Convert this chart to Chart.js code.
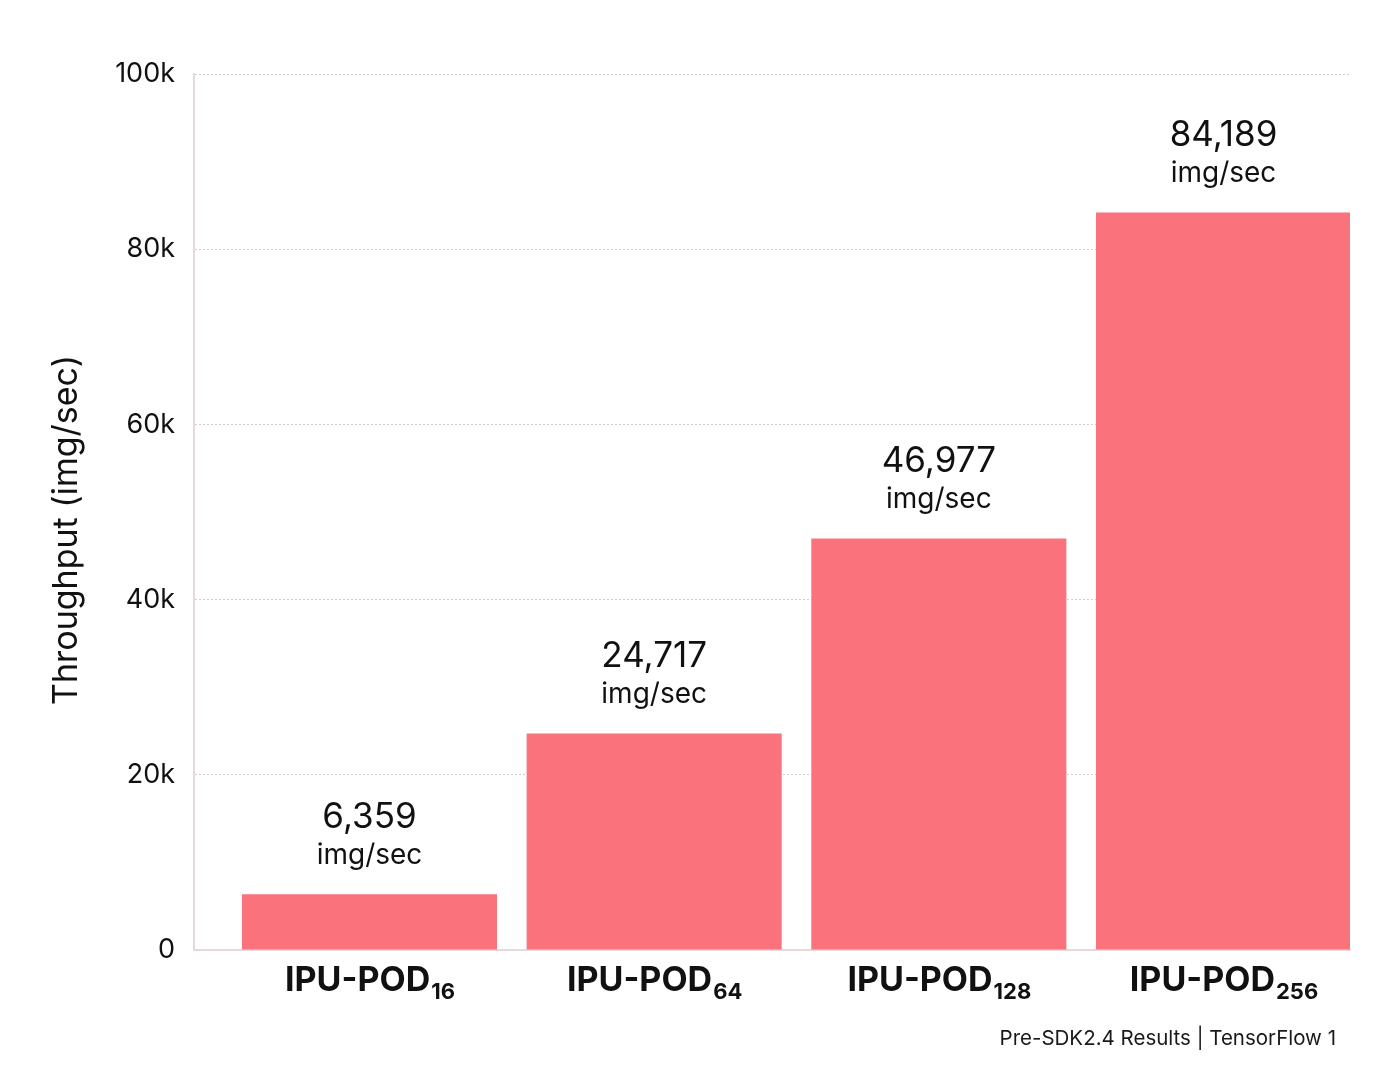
<!DOCTYPE html>
<html>
<head>
<meta charset="utf-8">
<script src="https://cdn.jsdelivr.net/npm/chart.js@4.4.1/dist/chart.umd.min.js"></script>
<style>
  html, body { margin: 0; padding: 0; background: #ffffff; }
  #wrap { width: 1400px; height: 1078px; }
</style>
</head>
<body>
<div id="wrap"><canvas id="c" width="1400" height="1078"></canvas></div>
<script>
// ---- data ----
const categoryNames = ["IPU-POD", "IPU-POD", "IPU-POD", "IPU-POD"];
const categorySubscripts = ["16", "64", "128", "256"];
const throughputValues = [6359, 24717, 46977, 84189];
const valueUnit = "img/sec";
const yTickValues = [0, 20000, 40000, 60000, 80000, 100000];
const yAxisTitle = "Throughput (img/sec)";
const footerNote = "Pre-SDK2.4 Results | TensorFlow 1";

const FONT = "Inter, 'Open Sans', 'DejaVu Sans', sans-serif";
const BAR_COLOR = "#FA727C";

const labelsPlugin = {
  id: "labelsPlugin",
  afterDatasetsDraw(chart) {
    const ctx = chart.ctx;
    const meta = chart.getDatasetMeta(0);
    const xs = chart.scales.x;
    ctx.save();
    ctx.fillStyle = "#111111";
    ctx.textAlign = "center";
    ctx.textBaseline = "middle";
    meta.data.forEach((bar, i) => {
      const v = throughputValues[i];
      ctx.font = "400 35px " + FONT;
      ctx.fillText(v.toLocaleString("en-US"), bar.x, bar.y - 77);
      ctx.font = "400 28px " + FONT;
      ctx.fillText(valueUnit, bar.x, bar.y - 39);
    });
    // x category labels with subscripts
    ctx.textBaseline = "alphabetic";
    categoryNames.forEach((name, i) => {
      const cx = xs.getPixelForValue(i);
      ctx.font = "700 34px " + FONT;
      const w1 = ctx.measureText(name).width;
      ctx.font = "700 22px " + FONT;
      const w2 = ctx.measureText(categorySubscripts[i]).width;
      const start = cx - (w1 + w2) / 2;
      ctx.textAlign = "left";
      ctx.font = "700 34px " + FONT;
      ctx.fillText(name, start, 991);
      ctx.font = "700 22px " + FONT;
      ctx.fillText(categorySubscripts[i], start + w1 + 1, 999);
    });
    // footer
    ctx.textAlign = "right";
    ctx.font = "400 20.5px " + FONT;
    ctx.fillStyle = "#1a1a1a";
    ctx.fillText(footerNote, 1336, 1045);
    // y axis title
    ctx.save();
    ctx.translate(77, 530);
    ctx.rotate(-Math.PI / 2);
    ctx.textAlign = "center";
    ctx.font = "400 34px " + FONT;
    ctx.fillStyle = "#111111";
    ctx.fillText(yAxisTitle, 0, 0);
    ctx.restore();
    ctx.restore();
  }
};

new Chart(document.getElementById("c"), {
  type: "bar",
  data: {
    datasets: [{
      data: throughputValues.map((v, i) => ({ x: i, y: v })),
      backgroundColor: BAR_COLOR,
      borderWidth: 0,
      barPercentage: 0.896,
      categoryPercentage: 1.0
    }]
  },
  options: {
    responsive: false,
    animation: false,
    devicePixelRatio: 1,
    layout: { padding: { top: 74, right: 50, left: 0, bottom: 0 } },
    plugins: { legend: { display: false }, tooltip: { enabled: false }, title: { display: false } },
    scales: {
      x: {
        type: "linear",
        offset: false,
        min: -0.6165,
        max: 3.4444,
        afterBuildTicks(scale) { scale.ticks = categorySubscripts.map((s, i) => ({ value: i })); },
        ticks: { display: false },
        grid: { display: false, drawTicks: false },
        border: { display: true, color: "#E4DADC", width: 2 },
        afterFit(scale) { scale.height = 128; }
      },
      y: {
        min: 0,
        max: 100000,
        afterBuildTicks(scale) { scale.ticks = yTickValues.map(v => ({ value: v })); },
        ticks: {
          padding: 19,
          color: "#111111",
          font: { family: FONT, size: 27 },
          callback: v => v === 0 ? "0" : (v / 1000) + "k"
        },
        grid: {
          drawTicks: false,
          color: ctx => ctx.tick && ctx.tick.value === 0 ? "rgba(0,0,0,0)" : "#CFCFCF",
          lineWidth: 1
        },
        border: { display: true, color: "#E4DADC", width: 2, dash: [2, 2] },
        afterFit(scale) { scale.width = 194; }
      }
    }
  },
  plugins: [labelsPlugin]
});
</script>
</body>
</html>
